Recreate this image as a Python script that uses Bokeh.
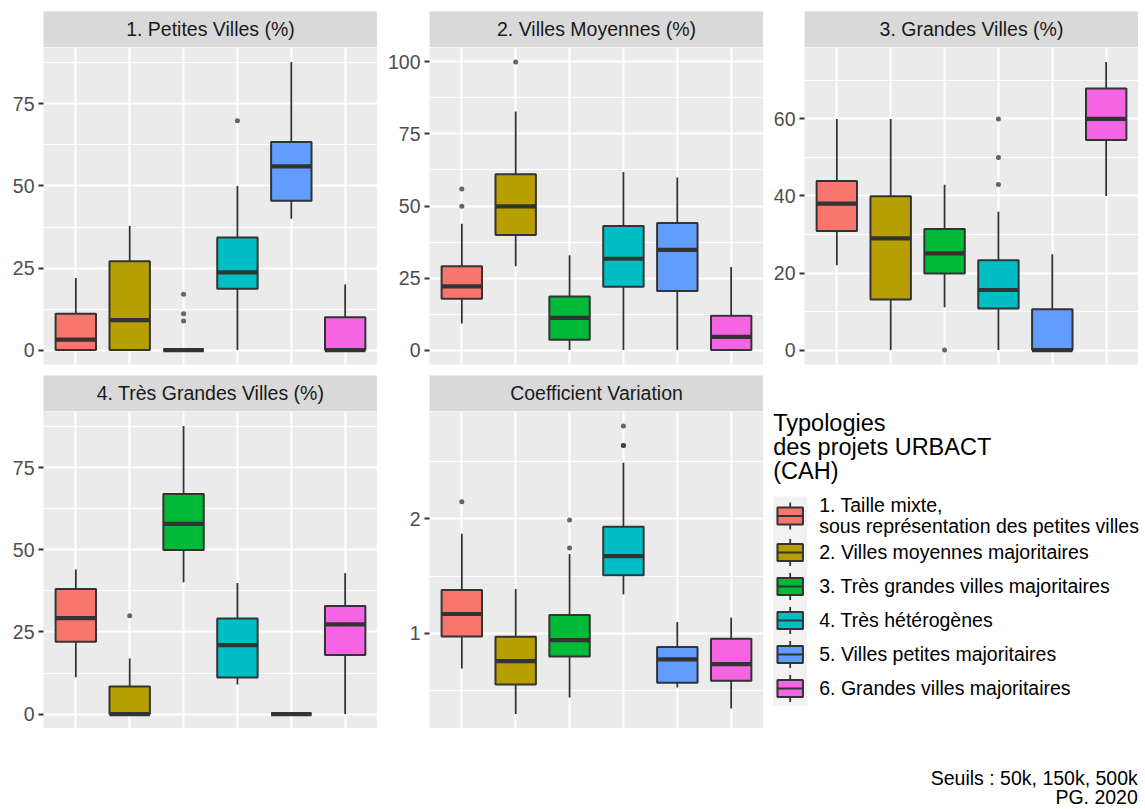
import numpy as np
from bokeh.plotting import figure
from bokeh.models import Range1d, FixedTicker
from bokeh.layouts import row, column
from bokeh.embed import file_html
from bokeh.resources import INLINE
from bokeh.core.properties import value

FONT = "Liberation Sans"

# ---------------- data ----------------
typologies = ["1. Taille mixte,\nsous représentation des petites villes",
              "2. Villes moyennes majoritaires",
              "3. Très grandes villes majoritaires",
              "4. Très hétérogènes",
              "5. Villes petites majoritaires",
              "6. Grandes villes majoritaires"]
colors = ["#F8766D", "#B79F00", "#00BA38", "#00BFC4", "#619CFF", "#F564E3"]
legend_title = ["Typologies", "des projets URBACT", "(CAH)"]
caption = ["Seuils : 50k, 150k, 500k", "PG. 2020"]

# 1. Petites Villes (%)
pv_title = "1. Petites Villes (%)"
pv_lower = [0, 0, 0, 0, 40.0, 0]
pv_q1 = [0, 0, 0, 18.7, 45.5, 0]
pv_median = [3.2, 9.1, 0, 23.7, 56.0, 0]
pv_q3 = [11.1, 27.1, 0, 34.3, 63.4, 10.0]
pv_upper = [22.0, 37.9, 0, 50.0, 87.8, 20.0]
pv_out_group = [3, 3, 3, 4]
pv_out_value = [17.0, 11.1, 8.9, 69.9]
pv_ticks = [0, 25, 50, 75]
pv_minor = [12.5, 37.5, 62.5, 87.5]

# 2. Villes Moyennes (%)
vm_title = "2. Villes Moyennes (%)"
vm_lower = [9.2, 29.1, 0, 0, 0, 0]
vm_q1 = [17.8, 39.9, 3.6, 22.0, 20.5, 0]
vm_median = [22.1, 49.9, 11.2, 31.7, 34.8, 4.6]
vm_q3 = [29.1, 61.0, 18.6, 43.1, 44.1, 11.9]
vm_upper = [43.8, 82.8, 32.9, 61.8, 59.9, 28.8]
vm_out_group = [1, 1, 2]
vm_out_value = [55.9, 49.9, 100.0]
vm_ticks = [0, 25, 50, 75, 100]
vm_minor = [12.5, 37.5, 62.5, 87.5]

# 3. Grandes Villes (%)
gv_title = "3. Grandes Villes (%)"
gv_lower = [22.0, 0, 11.1, 0, 0, 40.0]
gv_q1 = [30.9, 13.1, 19.9, 10.8, 0, 54.5]
gv_median = [38.0, 29.0, 25.1, 15.6, 0, 60.0]
gv_q3 = [43.9, 39.9, 31.4, 23.3, 10.6, 67.9]
gv_upper = [60.0, 60.0, 42.9, 35.9, 24.9, 74.8]
gv_out_group = [3, 4, 4, 4]
gv_out_value = [0.0, 60.0, 50.0, 43.0]
gv_ticks = [0, 20, 40, 60]
gv_minor = [10, 30, 50, 70]

# 4. Très Grandes Villes (%)
tg_title = "4. Très Grandes Villes (%)"
tg_lower = [11.2, 0, 40.1, 9.0, 0, 0]
tg_q1 = [22.0, 0, 49.9, 11.1, 0, 18.0]
tg_median = [29.2, 0, 57.9, 21.0, 0, 27.3]
tg_q3 = [38.1, 8.4, 67.0, 29.1, 0, 32.9]
tg_upper = [44.0, 16.9, 87.7, 39.9, 0, 42.9]
tg_out_group = [2]
tg_out_value = [29.9]
tg_ticks = [0, 25, 50, 75]
tg_minor = [12.5, 37.5, 62.5, 87.5]

# Coefficient Variation
cv_title = "Coefficient Variation"
cv_lower = [0.695, 0.297, 0.442, 1.340, 0.529, 0.346]
cv_q1 = [0.974, 0.555, 0.799, 1.506, 0.570, 0.587]
cv_median = [1.169, 0.759, 0.942, 1.674, 0.773, 0.733]
cv_q3 = [1.378, 0.971, 1.160, 1.930, 0.881, 0.953]
cv_upper = [1.869, 1.387, 1.692, 2.488, 1.099, 1.137]
cv_out_group = [1, 3, 3, 4, 4, 4]
cv_out_value = [2.148, 1.744, 1.988, 2.637, 2.637, 2.808]
cv_ticks = [1, 2]
cv_minor = [0.5, 1.5, 2.5]

# ---------------- style ----------------
PANEL_BG = "#EBEBEB"
STRIP_BG = "#D9D9D9"
LINE_COL = "#333333"
SMALL_PX = 19.5
TITLE_PX = 23.5
SMALL = f"{SMALL_PX}px"
TSHIFT = 0.41  # svg baseline correction, in em
BOX_LW = 2.0
WHISK_LW = 1.8
MED_LW = 4.2
HALF_W = 0.375
FRAME_H = 317
STRIP_H = 36


def make_panel(title, lower, q1, med, q3, upper, out_g, out_v, ticks, minor,
               bl, frame_w, top_gap, bottom_gap):
    xs = np.arange(1, len(lower) + 1)
    xr = (0.4, len(lower) + 0.6)

    # strip
    s = figure(frame_width=frame_w, frame_height=STRIP_H,
               x_range=Range1d(*xr), y_range=Range1d(STRIP_H, 0),
               x_axis_location=None, y_axis_location=None,
               output_backend="svg", toolbar_location=None, title=None,
               min_border_left=bl, min_border_right=0, min_border_top=top_gap,
               min_border_bottom=0)
    s.outline_line_color = None
    s.border_fill_color = "white"
    s.background_fill_color = STRIP_BG
    s.grid.visible = False
    s.text(x=[xs.mean()], y=[25 - TSHIFT * SMALL_PX], text=[title],
           text_align="center", text_baseline="alphabetic",
           text_font=value(FONT), text_font_size=SMALL, text_color="#1A1A1A")

    vals = list(lower) + list(upper) + list(out_v)
    lo, hi = min(vals), max(vals)
    pad = 0.05 * (hi - lo)
    p = figure(frame_width=frame_w, frame_height=FRAME_H,
               x_range=Range1d(*xr), y_range=Range1d(lo - pad, hi + pad),
               x_axis_location=None, output_backend="svg",
               toolbar_location=None, title=None,
               min_border_left=bl, min_border_right=0, min_border_top=0,
               min_border_bottom=bottom_gap)
    p.outline_line_color = None
    p.border_fill_color = "white"
    p.background_fill_color = PANEL_BG

    p.xgrid.ticker = FixedTicker(ticks=list(xs))
    p.xgrid.grid_line_color = "white"
    p.xgrid.grid_line_width = 2
    tk = FixedTicker(ticks=ticks, minor_ticks=minor)
    p.ygrid.ticker = tk
    p.ygrid.grid_line_color = "white"
    p.ygrid.grid_line_width = 2
    p.ygrid.minor_grid_line_color = "white"
    p.ygrid.minor_grid_line_width = 1

    ax = p.yaxis[0]
    ax.ticker = tk
    ax.axis_line_color = None
    ax.major_tick_in = 0
    ax.major_tick_out = 5
    ax.major_tick_line_color = LINE_COL
    ax.major_tick_line_width = 2
    ax.minor_tick_line_color = None
    ax.major_label_standoff = 4
    ax.major_label_text_font = FONT
    ax.major_label_text_font_size = SMALL
    ax.major_label_text_color = "#4D4D4D"

    # whiskers
    p.segment(x0=xs, y0=q3, x1=xs, y1=upper, line_color=LINE_COL, line_width=WHISK_LW)
    p.segment(x0=xs, y0=q1, x1=xs, y1=lower, line_color=LINE_COL, line_width=WHISK_LW)
    # boxes
    p.quad(left=xs - HALF_W, right=xs + HALF_W, bottom=q1, top=q3,
           fill_color=colors, line_color=LINE_COL, line_width=BOX_LW)
    # medians
    p.segment(x0=xs - HALF_W, y0=med, x1=xs + HALF_W, y1=med,
              line_color=LINE_COL, line_width=MED_LW)
    # outliers
    p.scatter(x=out_g, y=out_v, size=5, fill_color=LINE_COL, fill_alpha=0.75,
              line_color=None)
    return column(s, p)


c1 = make_panel(pv_title, pv_lower, pv_q1, pv_median, pv_q3, pv_upper,
                pv_out_group, pv_out_value, pv_ticks, pv_minor, 43, 334, 11, 11)
c2 = make_panel(vm_title, vm_lower, vm_q1, vm_median, vm_q3, vm_upper,
                vm_out_group, vm_out_value, vm_ticks, vm_minor, 52, 334, 11, 11)
c3 = make_panel(gv_title, gv_lower, gv_q1, gv_median, gv_q3, gv_upper,
                gv_out_group, gv_out_value, gv_ticks, gv_minor, 41, 334, 11, 11)
c4 = make_panel(tg_title, tg_lower, tg_q1, tg_median, tg_q3, tg_upper,
                tg_out_group, tg_out_value, tg_ticks, tg_minor, 43, 334, 0, 0)
c5 = make_panel(cv_title, cv_lower, cv_q1, cv_median, cv_q3, cv_upper,
                cv_out_group, cv_out_value, cv_ticks, cv_minor, 52, 334, 0, 0)

# ---------------- legend + caption ----------------
LW, LH = 381, 433
leg = figure(frame_width=LW, frame_height=LH, x_range=Range1d(0, LW),
             y_range=Range1d(LH, 0), x_axis_location=None, y_axis_location=None,
             output_backend="svg", toolbar_location=None, title=None,
             min_border_left=0, min_border_right=0, min_border_top=0,
             min_border_bottom=0)
leg.outline_line_color = None
leg.border_fill_color = "white"
leg.background_fill_color = "white"
leg.grid.visible = False

kx, kw, key = 9.7, 34.0, 34.0
title_y = 56.7 - TSHIFT * TITLE_PX + 24 * np.arange(len(legend_title))
leg.text(x=[kx] * len(legend_title), y=title_y, text=legend_title,
         text_baseline="alphabetic", text_font=value(FONT),
         text_font_size=f"{TITLE_PX}px", text_color="black")

cell_h = np.array([39.0 if "\n" in t else 34.0 for t in typologies])
tops = 121 + np.concatenate([[0], np.cumsum(cell_h)[:-1]])
cy = tops + cell_h / 2
leg.quad(left=kx, right=kx + kw, top=tops, bottom=tops + cell_h,
         fill_color="#F2F2F2", line_color=None)
cx = kx + kw / 2
leg.segment(x0=cx, y0=cy - 0.4 * key, x1=cx, y1=cy + 0.4 * key,
            line_color=LINE_COL, line_width=WHISK_LW)
leg.quad(left=kx + 0.125 * kw, right=kx + 0.875 * kw, top=cy - 0.25 * key,
         bottom=cy + 0.25 * key, fill_color=colors, line_color=LINE_COL,
         line_width=BOX_LW)
leg.segment(x0=kx + 0.125 * kw, y0=cy, x1=kx + 0.875 * kw, y1=cy,
            line_color=LINE_COL, line_width=BOX_LW)

lab_x, lab_y, lab_t = [], [], []
for t, c in zip(typologies, cy):
    lines = t.split("\n")
    for j, ln in enumerate(lines):
        lab_x.append(55.7)
        lab_y.append(c + 7 - TSHIFT * SMALL_PX - (len(lines) - 1) * 21 / 2 + j * 21)
        lab_t.append(ln)
leg.text(x=lab_x, y=lab_y, text=lab_t, text_baseline="alphabetic",
         text_font=value(FONT), text_font_size=SMALL, text_color="black")

cap_y = 410.0 - TSHIFT * SMALL_PX + 19.7 * np.arange(len(caption))
leg.text(x=[374.3] * len(caption), y=cap_y, text=caption, text_align="right",
         text_baseline="alphabetic", text_font=value(FONT),
         text_font_size=SMALL, text_color="black")

layout = column(row(c1, c2, c3), row(c4, c5, leg))

open("out.html", "w").write(file_html(layout, INLINE))
